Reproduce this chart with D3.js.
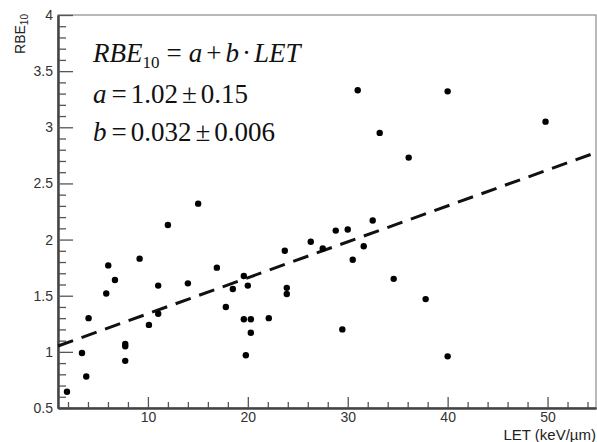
<!DOCTYPE html>
<html><head><meta charset="utf-8">
<script src="https://cdn.jsdelivr.net/npm/d3@7"></script>
<style>html,body{margin:0;padding:0;background:#fff;}svg{display:block;}</style>
</head><body>
<svg id="chart" width="597" height="442"></svg>
<script>
// ---- data ----
const letValues = [1.9,3.4,3.83,4.06,5.83,6.03,6.7,7.73,7.73,7.73,9.17,10.1,11.03,11.03,12.0,14.0,15.03,16.9,17.8,18.5,19.6,19.6,19.8,20.0,20.3,20.3,22.1,23.7,23.9,23.9,26.3,27.5,28.8,30.0,30.5,31.6,32.5,34.6,37.8,29.46,40.0,31.0,40.0,33.2,36.1,49.8];
const rbeValues = [0.645,0.99,0.78,1.30,1.52,1.77,1.64,1.07,1.05,0.92,1.83,1.24,1.59,1.34,2.13,1.61,2.32,1.75,1.40,1.56,1.675,1.29,0.97,1.59,1.29,1.17,1.30,1.90,1.57,1.515,1.98,1.92,2.08,2.09,1.82,1.94,2.17,1.65,1.47,1.20,0.96,3.33,3.32,2.95,2.73,3.05];
const fitA = 1.02, fitB = 0.032;
const yMajorTicks = [0.5,1,1.5,2,2.5,3,3.5,4];
const yTickLabels = ["0.5","1","1.5","2","2.5","3","3.5","4"];
const xMajorTicks = [10,20,30,40,50];
const xTickLabels = ["10","20","30","40","50"];
const xDomain = [1, 54.85], yDomain = [0.5, 4];

// ---- layout ----
const svg = d3.select("#chart");
const L = 58, R = 596, T = 15, B = 408;
const x = d3.scaleLinear().domain(xDomain).range([L, R]);
const y = d3.scaleLinear().domain(yDomain).range([B, T]);

// frame
svg.append("rect").attr("x", L).attr("y", T).attr("width", R - L).attr("height", B - T)
  .attr("fill", "none").attr("stroke", "#8a8a8a").attr("stroke-width", 1.2);

// minor ticks
const yMinor = d3.range(0.5, 4.0001, 0.1).map(v => +v.toFixed(2)).filter(v => !yMajorTicks.some(m => Math.abs(m - v) < 1e-6));
const xMinor = d3.range(2, 55, 2).filter(v => v % 10 !== 0);

const yMinorAxis = d3.axisLeft(y).tickValues(yMinor).tickSizeInner(-8).tickSizeOuter(0).tickFormat("");
const yAxis = d3.axisLeft(y).tickValues(yMajorTicks).tickSizeInner(-15).tickSizeOuter(0).tickPadding(5)
  .tickFormat((d, i) => yTickLabels[i]);
const xMinorAxis = d3.axisBottom(x).tickValues(xMinor).tickSizeInner(-6).tickSizeOuter(0).tickFormat("");
const xAxis = d3.axisBottom(x).tickValues(xMajorTicks).tickSizeInner(-11).tickSizeOuter(0).tickPadding(4)
  .tickFormat((d, i) => xTickLabels[i]);

function styleAxis(g) {
  g.selectAll(".domain").attr("stroke", "#444").attr("stroke-width", 2);
  g.selectAll(".tick line").attr("stroke", "#555").attr("stroke-width", 1.3);
  g.selectAll("text").attr("fill", "#333").style("font-family", "Liberation Sans, Arial, sans-serif").style("font-size", "14px");
}
svg.append("g").attr("transform", `translate(${L},0)`).call(yMinorAxis).call(styleAxis);
svg.append("g").attr("transform", `translate(${L},0)`).call(yAxis).call(styleAxis);
svg.append("g").attr("transform", `translate(0,${B})`).call(xMinorAxis).call(styleAxis);
svg.append("g").attr("transform", `translate(0,${B})`).call(xAxis).call(styleAxis);

// axis titles
const yt = svg.append("text").attr("transform", "translate(25,14) rotate(-90)")
  .attr("text-anchor", "end").attr("fill", "#222")
  .style("font-family", "Liberation Sans, Arial, sans-serif").style("font-size", "14px");
yt.append("tspan").text("RBE");
yt.append("tspan").attr("dy", 3).style("font-size", "10px").text("10");

svg.append("text").attr("x", 596).attr("y", 440).attr("text-anchor", "end").attr("fill", "#222")
  .style("font-family", "Liberation Sans, Arial, sans-serif").style("font-size", "15px")
  .text("LET (keV/µm)");

// fit line
const fitData = [xDomain[0], xDomain[1]].map(v => [v, fitA + fitB * v]);
svg.append("path").datum(fitData)
  .attr("d", d3.line().x(d => x(d[0])).y(d => y(d[1])))
  .attr("fill", "none").attr("stroke", "#111").attr("stroke-width", 3)
  .attr("stroke-dasharray", "16,9");

// points
svg.append("g").selectAll("circle").data(letValues.map((v, i) => [v, rbeValues[i]]))
  .enter().append("circle")
  .attr("cx", d => x(d[0])).attr("cy", d => y(d[1])).attr("r", 3.2).attr("fill", "#000");

// equations
const serif = "Liberation Serif, Times New Roman, serif";
function eqLine(yb, parts) {
  const t = svg.append("text").attr("x", 93).attr("y", yb).attr("fill", "#111")
    .style("font-family", serif).style("font-size", "27px");
  parts.forEach(p => {
    const s = t.append("tspan").text(p.t);
    if (p.i) s.style("font-style", "italic");
    if (p.dx) s.attr("dx", p.dx);
    if (p.dy) s.attr("dy", p.dy);
    if (p.fs) s.style("font-size", p.fs);
  });
}
eqLine(62, [{t: "RBE", i: 1}, {t: "10", dy: 6, fs: "17px"}, {t: "=", dy: -6, dx: 7}, {t: "a", i: 1, dx: 7},
  {t: "+", dx: 4}, {t: "b", i: 1, dx: 4}, {t: "·", dx: 3}, {t: "LET", i: 1, dx: 3}]);
eqLine(103, [{t: "a", i: 1}, {t: "=", dx: 5}, {t: "1.02", dx: 4}, {t: "±", dx: 4}, {t: "0.15", dx: 4}]);
eqLine(141, [{t: "b", i: 1}, {t: "=", dx: 5}, {t: "0.032", dx: 4}, {t: "±", dx: 4}, {t: "0.006", dx: 4}]);
</script>
</body></html>
